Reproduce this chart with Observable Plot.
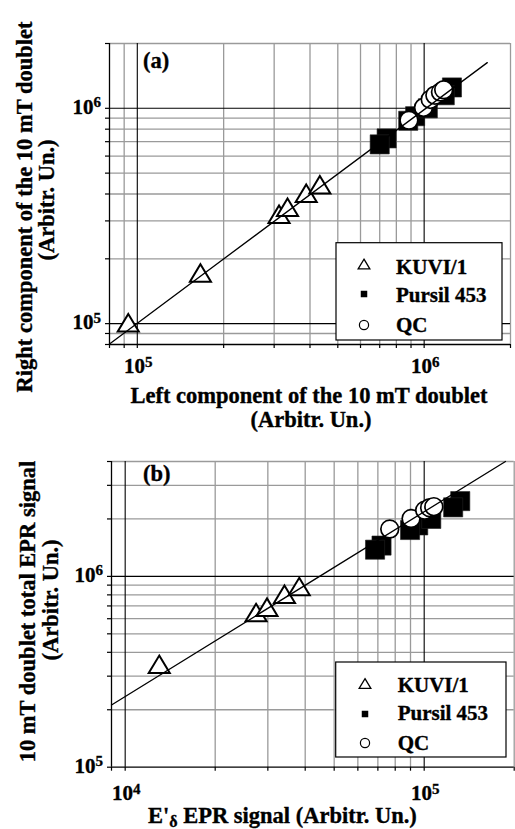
<!DOCTYPE html>
<html>
<head>
<meta charset="utf-8">
<script src="https://cdn.jsdelivr.net/npm/d3@7"></script>
<script src="https://cdn.jsdelivr.net/npm/@observablehq/plot@0.6"></script>
<style>
  body { margin: 0; background: #fff; }
  #chart { width: 515px; }
  #chart svg { display: block; }
</style>
</head>
<body>
<div id="chart"></div>
<script>
// ---------------- Panel (a) data ----------------
const kuviA_left   = [9.3e4, 1.66e5, 3.12e5, 3.34e5, 3.88e5, 4.33e5];
const kuviA_right  = [1.01e5, 1.72e5, 3.22e5, 3.47e5, 4.03e5, 4.42e5];
const pursilA_left  = [7.4e5, 7.0e5, 9.3e5, 8.8e5, 1.03e6, 1.25e6, 1.18e6];
const pursilA_right = [7.25e5, 6.8e5, 9.19e5, 8.75e5, 1.0e6, 1.25e6, 1.15e6];
const qcA_left  = [8.85e5, 9.95e5, 1.05e6, 1.09e6, 1.14e6, 1.17e6];
const qcA_right = [8.8e5, 1.01e6, 1.1e6, 1.15e6, 1.19e6, 1.22e6];
const fitA_x = [8.0e4, 1.66e6];
const fitA_y = [8.05e4, 1.63e6];
const domainA_x = [8e4, 2e6];
const domainA_y = [8e4, 2e6];
const minorA = [9e4, 2e5, 3e5, 4e5, 5e5, 6e5, 7e5, 8e5, 9e5, 2e6];
const majorA = [1e5, 1e6];
const ticksA = [8e4, 9e4, 1e5, 2e5, 3e5, 4e5, 5e5, 6e5, 7e5, 8e5, 9e5, 1e6, 2e6];
const labelsA_x = [1e5, 1e6];
const labelsA_y = [1e5, 1e6];

// ---------------- Panel (b) data ----------------
const kuviB_x = [1.30e4, 2.74e4, 2.98e4, 3.41e4, 3.82e4];
const kuviB_y = [3.46e5, 6.46e5, 6.9e5, 8.07e5, 8.84e5];
const pursilB_x = [7.2e4, 6.85e4, 9.55e4, 8.97e4, 1.056e5, 1.32e5, 1.25e5];
const pursilB_y = [1.45e6, 1.38e6, 1.85e6, 1.75e6, 2.0e6, 2.48e6, 2.3e6];
const qcB_x = [7.67e4, 9.04e4, 1.004e5, 1.043e5, 1.077e5];
const qcB_y = [1.77e6, 2.01e6, 2.22e6, 2.29e6, 2.32e6];
const fitB_x = [9.0e3, 1.87e5];
const fitB_y = [2.12e5, 4.0e6];
const domainB_x = [9e3, 2e5];
const domainB_y = [1e5, 4e6];
const minorB_x = [2e4, 3e4, 4e4, 5e4, 6e4, 7e4, 8e4, 9e4, 2e5];
const majorB_x = [1e4, 1e5];
const ticksB_x = [9e3, 1e4, 2e4, 3e4, 4e4, 5e4, 6e4, 7e4, 8e4, 9e4, 1e5, 2e5];
const minorB_y = [2e5, 3e5, 4e5, 5e5, 6e5, 7e5, 8e5, 9e5, 2e6, 3e6, 4e6];
const majorB_y = [1e6];
const ticksB_y = [1e5, 2e5, 3e5, 4e5, 5e5, 6e5, 7e5, 8e5, 9e5, 1e6, 2e6, 3e6, 4e6];
const labelsB_x = [1e4, 1e5];
const labelsB_y = [1e5, 1e6];

const seriesNames = ["KUVI/1", "Pursil 453", "QC"];

// ---------------- helpers ----------------
const FONT = "'Liberation Serif', 'Times New Roman', serif";
const zip = (xs, ys) => xs.map((x, i) => ({x, y: ys[i]}));

// open triangle centred on its bounding box
const triSym = {
  draw(ctx, size) {
    const r = Math.sqrt(size / Math.PI);
    const hw = r * 1.3, hh = r * 1.08;
    ctx.moveTo(0, -hh);
    ctx.lineTo(hw, hh);
    ctx.lineTo(-hw, hh);
    ctx.closePath();
  }
};

function makePanel(cfg) {
  const chart = Plot.plot({
    width: 515,
    height: cfg.height,
    marginLeft: cfg.ml, marginRight: cfg.mr, marginTop: cfg.mt, marginBottom: cfg.mb,
    style: {background: "white", fontFamily: FONT},
    x: {type: "log", domain: cfg.dx},
    y: {type: "log", domain: cfg.dy},
    marks: [
      Plot.ruleX(cfg.minorX, {stroke: "#9a9a9a", strokeWidth: 1.3}),
      Plot.ruleY(cfg.minorY, {stroke: "#9a9a9a", strokeWidth: 1.3}),
      Plot.ruleX(cfg.majorX, {stroke: "#000", strokeWidth: 1.1}),
      Plot.ruleY(cfg.majorY, {stroke: "#000", strokeWidth: 1.1}),
      Plot.ruleX([cfg.dx[0]], {stroke: "#000", strokeWidth: 1.3}),
      Plot.ruleY([cfg.dy[0]], {stroke: "#000", strokeWidth: 1.3}),
      Plot.axisX({ticks: cfg.ticksX, tickSize: 4, tickFormat: () => "", label: null, strokeWidth: 1.2}),
      Plot.axisY({ticks: cfg.ticksY, tickSize: 4, tickFormat: () => "", label: null, strokeWidth: 1.2}),
      Plot.dot(cfg.pursil, {x: "x", y: "y", symbol: "square", r: 10.8, fill: "#000", stroke: "#222", strokeWidth: 0.6}),
      Plot.dot(cfg.qc, {x: "x", y: "y", r: 8.9, fill: "#fff", stroke: "#000", strokeWidth: 1.7}),
      Plot.dot(cfg.kuvi, {x: "x", y: "y", symbol: triSym, r: 8.1, fill: "#fff", stroke: "#000", strokeWidth: 2}),
      Plot.line(cfg.fit, {x: "x", y: "y", stroke: "#000", strokeWidth: 1.3})
    ]
  });

  const sx = chart.scale("x"), sy = chart.scale("y");
  const svg = d3.select(chart);
  const g = svg.append("g")
    .attr("font-family", FONT)
    .attr("font-weight", "bold")
    .attr("text-anchor", "start")
    .attr("fill", "#000");
  const tg = g.append("g").attr("stroke", "#000").attr("stroke-width", 0.35);

  const powLabel = (x, y, v, anchor) => {
    const t = tg.append("text").attr("x", x).attr("y", y)
      .attr("text-anchor", anchor).attr("font-size", 21);
    t.append("tspan").text("10");
    t.append("tspan").attr("font-size", 15).attr("dy", -6.5).text(String(Math.round(Math.log10(v))));
  };
  cfg.labelsX.forEach(v => powLabel(sx.apply(v) + 1.5, cfg.xLabelBase, v, "middle"));
  cfg.labelsY.forEach(v => powLabel(cfg.ml - 8, sy.apply(v) + 6, v, "end"));

  // panel tag
  tg.append("text").attr("x", 143).attr("y", cfg.tagBase).attr("font-size", 22.5).text(cfg.tag);

  // axis titles
  cfg.xTitle(tg);
  cfg.yTitles.forEach(t => {
    tg.append("text")
      .attr("transform", `translate(${t.x},${t.c}) rotate(-90)`)
      .attr("text-anchor", "middle").attr("font-size", 22.5).text(t.text);
  });

  // legend
  const L = cfg.legend;
  g.append("rect").attr("x", L.x0).attr("y", L.y0).attr("width", L.x1 - L.x0).attr("height", L.y1 - L.y0)
    .attr("fill", "#fff").attr("stroke", "#000").attr("stroke-width", 1.2);
  const lg = g.append("g");
  seriesNames.forEach((name, i) => {
    const my = L.my[i];
    if (i === 0) {
      lg.append("path").attr("d", d3.symbol(triSym, Math.PI * 4.5 * 4.5)())
        .attr("transform", `translate(${L.mx},${my})`)
        .attr("fill", "#fff").attr("stroke", "#000").attr("stroke-width", 1.3);
    } else if (i === 1) {
      lg.append("path").attr("d", d3.symbol(d3.symbolSquare, 6.5 * 6.5)())
        .attr("transform", `translate(${L.mx},${my})`)
        .attr("fill", "#000");
    } else {
      lg.append("circle").attr("cx", L.mx).attr("cy", my).attr("r", 4.6)
        .attr("fill", "#fff").attr("stroke", "#000").attr("stroke-width", 1.2);
    }
    lg.append("text").attr("x", L.tx).attr("y", L.ty[i]).attr("font-size", 21)
      .attr("stroke", "#000").attr("stroke-width", 0.35).text(name);
  });
  return chart;
}

const chartA = makePanel({
  height: 435, ml: 109, mr: 5, mt: 43, mb: 91,
  dx: domainA_x, dy: domainA_y,
  minorX: minorA, minorY: minorA, majorX: majorA, majorY: majorA,
  ticksX: ticksA, ticksY: ticksA,
  kuvi: zip(kuviA_left, kuviA_right),
  pursil: zip(pursilA_left, pursilA_right),
  qc: zip(qcA_left, qcA_right),
  fit: zip(fitA_x, fitA_y),
  labelsX: labelsA_x, labelsY: labelsA_y, xLabelBase: 373,
  tag: "(a)", tagBase: 67.5,
  xTitle: g => {
    g.append("text").attr("x", 309).attr("y", 403).attr("text-anchor", "middle").attr("font-size", 22.5)
      .text("Left component of the 10 mT doublet");
    g.append("text").attr("x", 311).attr("y", 427).attr("text-anchor", "middle").attr("font-size", 22.5)
      .text("(Arbitr. Un.)");
  },
  yTitles: [
    {x: 32, c: 207, text: "Right component of the 10 mT doublet"},
    {x: 54, c: 200, text: "(Arbitr. Un.)"}
  ],
  legend: {x0: 336, x1: 502, y0: 242.7, y1: 340, mx: 364, my: [264, 294, 325], tx: 396, ty: [273.5, 302, 332]}
});

// panel (b) svg starts at page y = 435
const chartB = makePanel({
  height: 394, ml: 111, mr: 1.3, mt: 26, mb: 62.3,
  dx: domainB_x, dy: domainB_y,
  minorX: minorB_x, minorY: minorB_y, majorX: majorB_x, majorY: majorB_y,
  ticksX: ticksB_x, ticksY: ticksB_y,
  kuvi: zip(kuviB_x, kuviB_y),
  pursil: zip(pursilB_x, pursilB_y),
  qc: zip(qcB_x, qcB_y),
  fit: zip(fitB_x, fitB_y),
  labelsX: labelsB_x, labelsY: labelsB_y, xLabelBase: 365,
  tag: "(b)", tagBase: 46,
  xTitle: g => {
    const t = g.append("text").attr("x", 148).attr("y", 387.5).attr("font-size", 22.5);
    t.append("tspan").text("E'");
    t.append("tspan").attr("font-size", 16).attr("dy", 4).text("\u03B4");
    t.append("tspan").attr("dy", -4).text("\u00A0EPR signal (Arbitr. Un.)");
  },
  yTitles: [
    {x: 35, c: 176.5, text: "10 mT doublet total EPR signal"},
    {x: 58, c: 165, text: "(Arbitr. Un.)"}
  ],
  legend: {x0: 335.7, x1: 506, y0: 227, y1: 322, mx: 365, my: [248.5, 279, 308], tx: 397.7, ty: [256.7, 285, 314.5]}
});

document.getElementById("chart").append(chartA, chartB);
</script>
</body>
</html>
